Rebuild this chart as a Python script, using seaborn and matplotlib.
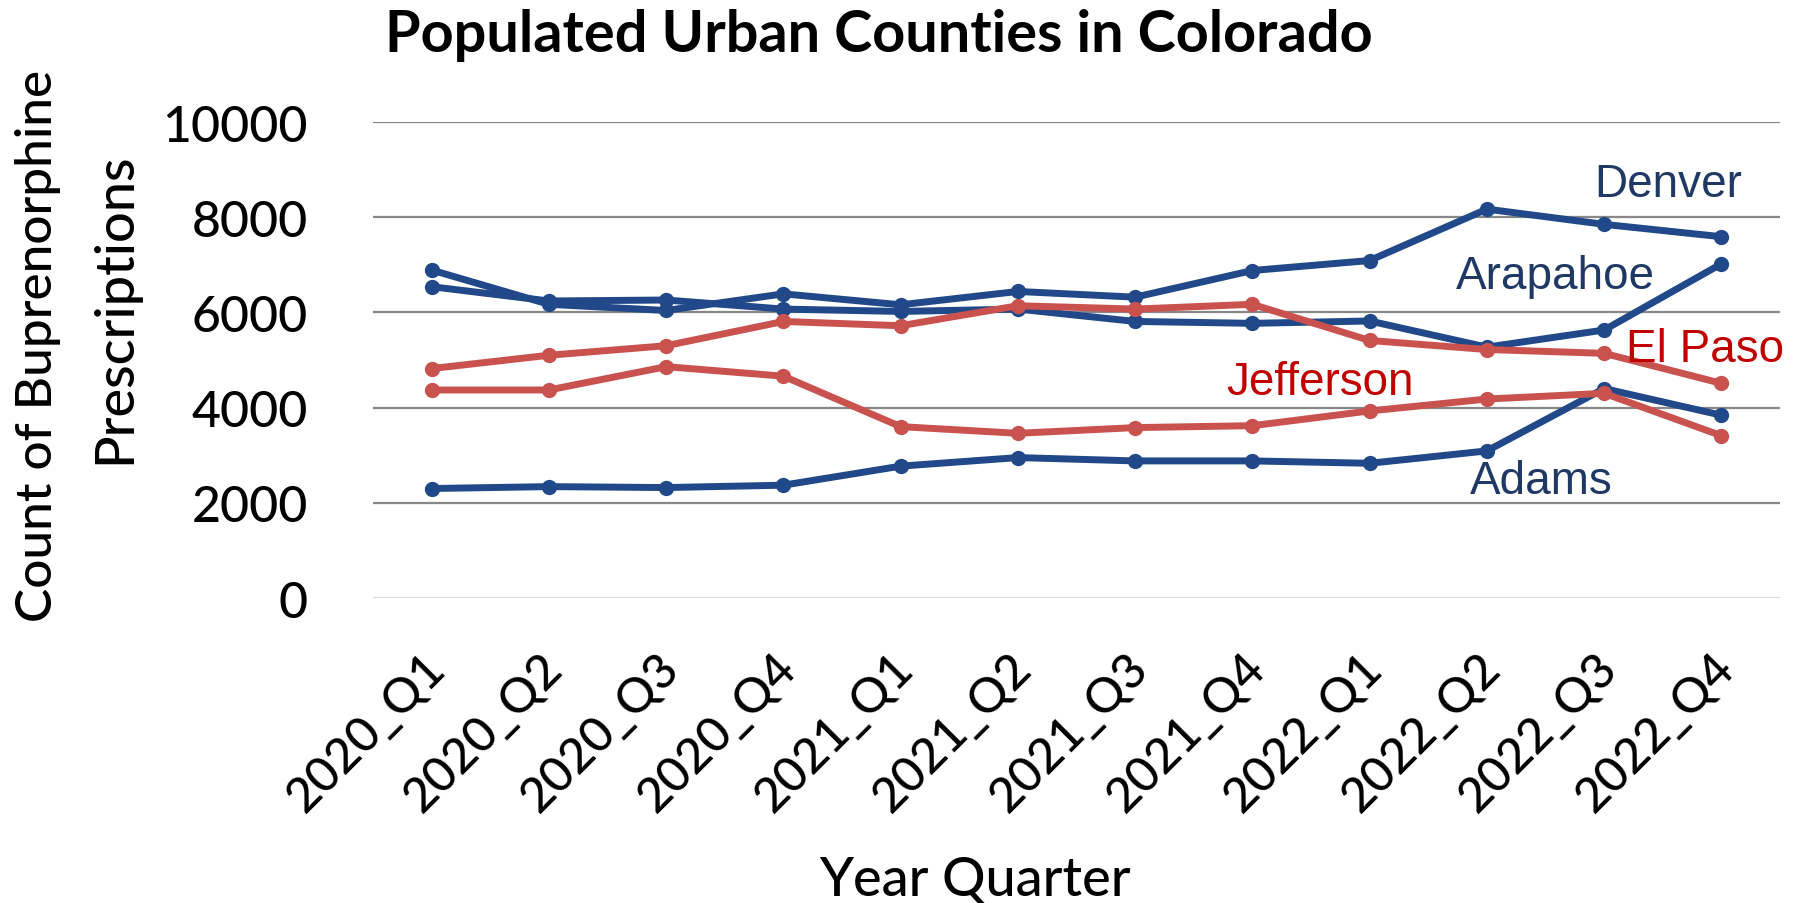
import matplotlib
matplotlib.use("Agg")
import matplotlib.pyplot as plt
from matplotlib.transforms import ScaledTranslation
import pandas as pd
import seaborn as sns

# Quarterly buprenorphine prescription counts by county
quarters = ["2020_Q1", "2020_Q2", "2020_Q3", "2020_Q4",
            "2021_Q1", "2021_Q2", "2021_Q3", "2021_Q4",
            "2022_Q1", "2022_Q2", "2022_Q3", "2022_Q4"]
denver = [6890, 6170, 6040, 6390, 6160, 6440, 6320, 6880, 7090, 8170, 7850, 7590]
arapahoe = [6540, 6240, 6260, 6070, 6020, 6070, 5810, 5770, 5820, 5270, 5630, 7020]
adams = [2300, 2340, 2320, 2370, 2770, 2950, 2880, 2880, 2830, 3090, 4400, 3840]
el_paso = [4820, 5100, 5300, 5810, 5720, 6140, 6070, 6170, 5410, 5220, 5140, 4510]
jefferson = [4370, 4370, 4860, 4660, 3600, 3460, 3580, 3620, 3930, 4180, 4300, 3410]

counties = ["Denver", "Arapahoe", "Adams", "El Paso", "Jefferson"]
series = [denver, arapahoe, adams, el_paso, jefferson]
y_ticks = [0, 2000, 4000, 6000, 8000, 10000]

BLUE = "#21498A"
RED = "#C9524F"
BLUE_TXT = "#1F3864"
RED_TXT = "#C00000"
palette = {"Denver": BLUE, "Arapahoe": BLUE, "Adams": BLUE,
           "El Paso": RED, "Jefferson": RED}

df = pd.DataFrame({
    "quarter": quarters * len(counties),
    "count": [v for s in series for v in s],
    "county": [c for c in counties for _ in quarters],
})
df["pos"] = df["quarter"].map({q: i for i, q in enumerate(quarters)})

sns.set_theme(style="white")
plt.rcParams["font.family"] = ["Lato", "DejaVu Sans"]
plt.rcParams["text.color"] = "black"

W, H = 1804, 904
fig = plt.figure(figsize=(W / 100, H / 100), dpi=100)
ax = fig.add_axes([373 / W, 1 - 599 / H, (1780 - 373) / W, (599 - 123) / H])

sns.lineplot(data=df, x="pos", y="count", hue="county", hue_order=counties,
             palette=palette, marker="o", markersize=11, markeredgewidth=0,
             linewidth=5, legend=False, ax=ax, zorder=3)

ax.set_xlim(-0.5, len(quarters) - 0.5)
ax.set_ylim(0, 10000)
ax.set_yticks(y_ticks)
ax.set_yticklabels([str(t) for t in y_ticks], fontsize=36, color="black",
                   fontweight="medium")
ax.set_xticks(range(len(quarters)))
ax.set_xticklabels(quarters, fontsize=35, rotation=45, ha="right",
                   va="center", rotation_mode="anchor", color="black",
                   fontweight="medium")
ax.tick_params(axis="y", length=0, pad=47)
ax.tick_params(axis="x", length=0, pad=45)
shift = ScaledTranslation(6 / 100, 0, fig.dpi_scale_trans)
for lab in ax.get_xticklabels():
    lab.set_transform(lab.get_transform() + shift)
ax.set_xlabel("")
ax.set_ylabel("")
for sp in ax.spines.values():
    sp.set_visible(False)

for t in y_ticks:
    ax.axhline(t, color="#D9D9D9" if t == 0 else "#878787",
               linewidth=1.6, zorder=1)

# Series labels placed beside their lines
labels = [("Denver", 1668, 185, BLUE_TXT), ("Arapahoe", 1555, 277, BLUE_TXT),
          ("El Paso", 1705, 350, RED_TXT), ("Jefferson", 1320, 383, RED_TXT),
          ("Adams", 1541, 482, BLUE_TXT)]
for name, px, py, col in labels:
    fig.text(px / W, 1 - py / H, name, fontsize=33, color=col,
             ha="center", va="center", family=["Liberation Sans", "DejaVu Sans"])

fig.text(385 / W, 1 - 52 / H, "Populated Urban Counties in Colorado",
         fontsize=41.5, fontweight="bold", ha="left", va="baseline",
         color="black")
fig.text(975 / W, 1 - 880 / H, "Year Quarter", fontsize=39,
         ha="center", va="center", fontweight="medium")
fig.text(38 / W, 1 - 346 / H, "Count of Buprenorphine", fontsize=37,
         rotation=90, ha="center", va="center", fontweight="medium")
fig.text(115 / W, 1 - 308 / H, "Prescriptions", fontsize=39,
         rotation=90, ha="center", va="center", fontweight="medium")

fig.savefig("out.png", dpi=100, facecolor="white")
